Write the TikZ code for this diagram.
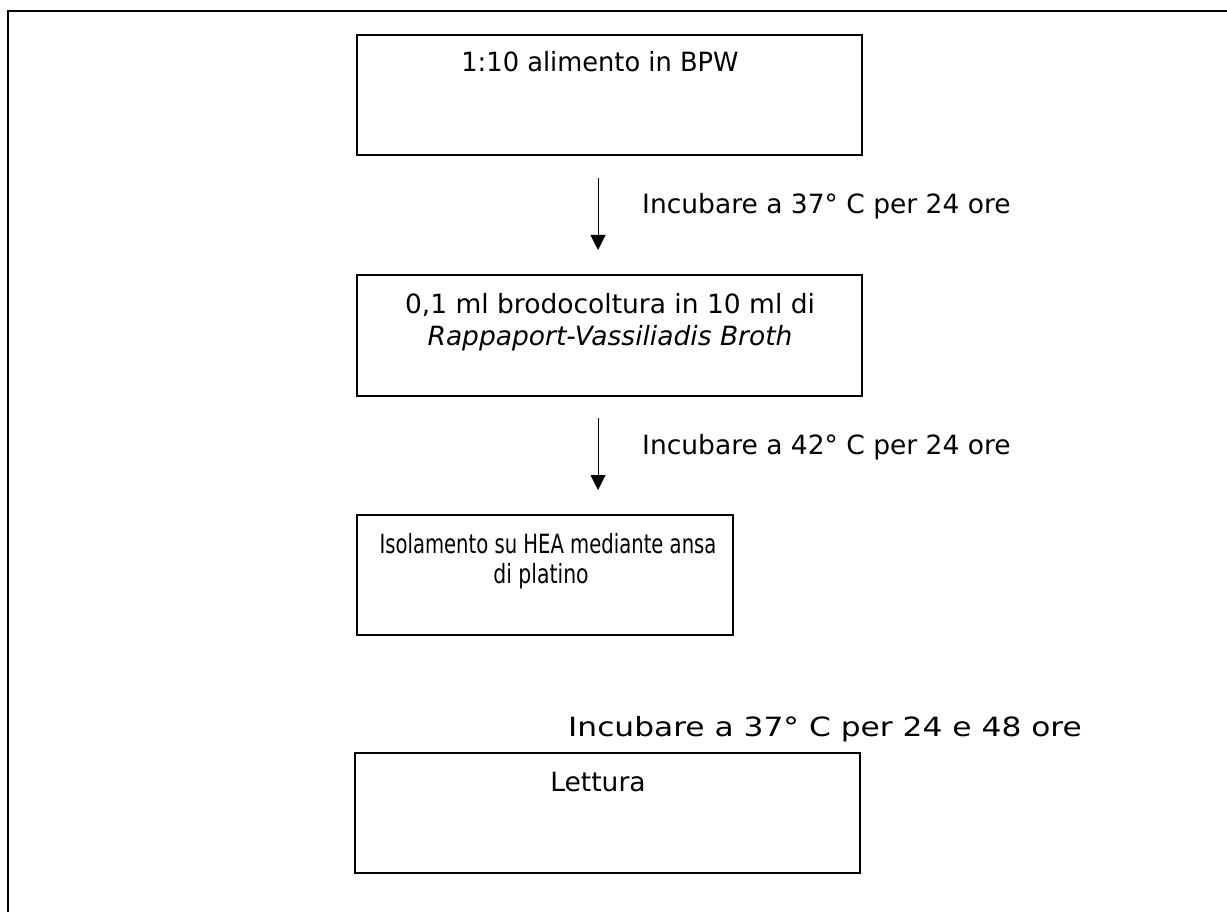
\documentclass[tikz,border=0pt]{standalone}
\usepackage{graphicx}
\usepackage{fontspec}
\setmainfont{DejaVu Sans}
\usetikzlibrary{arrows.meta}
\begin{document}
\begin{tikzpicture}[x=1pt,y=-1pt,
  stepbox/.style={draw, line width=1.3pt, inner sep=0pt},
  txt/.style={font=\fontsize{26.5}{31}\selectfont, inner sep=0pt, anchor=base},
  lbl/.style={txt, anchor=base west},
  flow/.style={line width=1pt, -{Triangle[width=15pt,length=15pt]}}]
\useasboundingbox (0,0) rectangle (1227,912);
% outer frame, open to the right and bottom
\draw[line width=1.8pt] (8,940) -- (8,11) -- (1250,11);

% process boxes
\node[stepbox, minimum width=505pt, minimum height=120pt] (b1) at (609.5,95) {};
\node[stepbox, minimum width=505pt, minimum height=121pt] (b2) at (609.5,335.5) {};
\node[stepbox, minimum width=376pt, minimum height=120pt] (b3) at (545,575) {};
\node[stepbox, minimum width=505pt, minimum height=120pt] (b4) at (607.5,813) {};

% box texts
\node[txt] (t1) at (600,72) {\scalebox{0.97}[1]{1:10 alimento in BPW}};
\node[txt] (t2a) at (610,313) {0,1 ml brodocoltura in 10 ml di};
\node[txt] (t2b) at (610,345) {\itshape Rappaport-Vassiliadis Broth};
\node[txt] (t3a) at (548,553) {\scalebox{0.74}[1]{Isolamento su HEA mediante ansa}};
\node[txt] (t3b) at (541,583) {\scalebox{0.77}[1]{di platino}};
\node[txt] (t4) at (598,791) {Lettura};

% arrows between steps
\coordinate (a1s) at (598,178);
\coordinate (a1e) at (598,250);
\coordinate (a2s) at (598,418);
\coordinate (a2e) at (598,490);
\draw[flow] (a1s) -- (a1e);
\draw[flow] (a2s) -- (a2e);

% incubation labels
\node[lbl] (l1) at (642,214) {Incubare a 37° C per 24 ore};
\node[lbl] (l2) at (642,454) {Incubare a 42° C per 24 ore};
\node[lbl] (l3) at (568,736) {\scalebox{1.18}[1]{Incubare a 37° C per 24 e 48 ore}};
\end{tikzpicture}
\end{document}
